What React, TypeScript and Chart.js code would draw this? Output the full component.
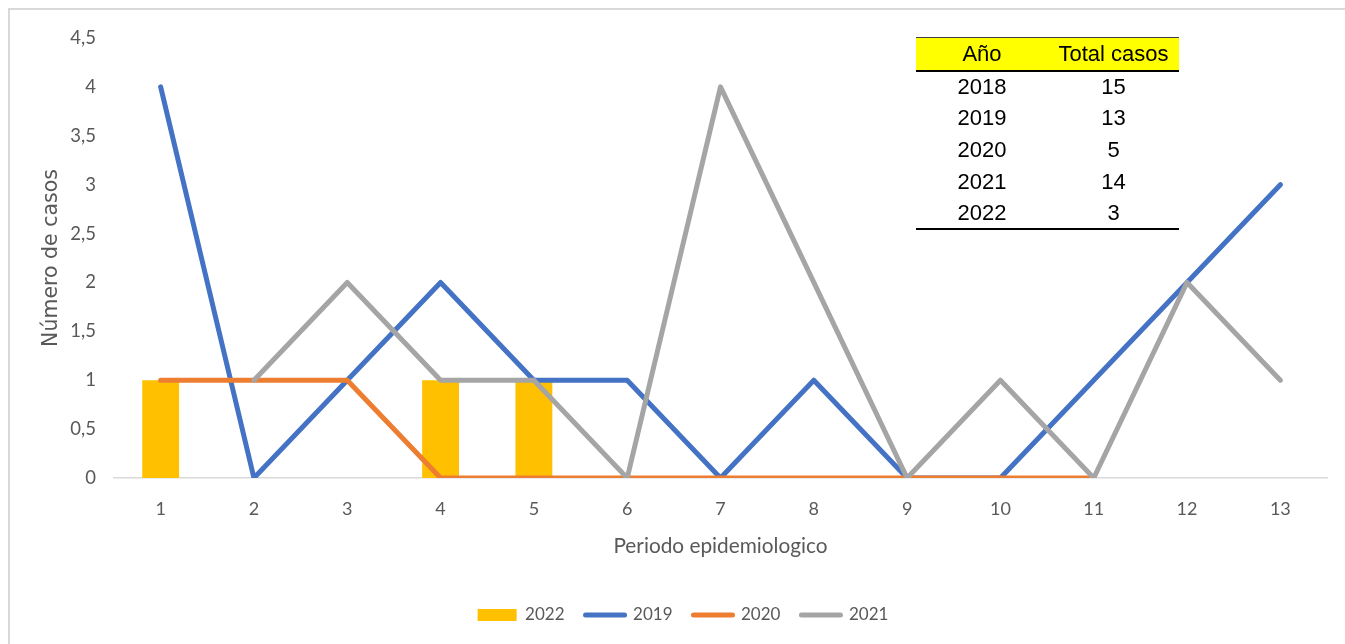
import React, { useEffect, useRef } from "react";
import { Chart, registerables } from "chart.js";

Chart.register(...registerables);

// ---- data ----
const periods = ["1", "2", "3", "4", "5", "6", "7", "8", "9", "10", "11", "12", "13"];
const cases2022 = [1, null, null, 1, 1, null, null, null, null, null, null, null, null];
const cases2019 = [4, 0, 1, 2, 1, 1, 0, 1, 0, 0, 1, 2, 3];
const cases2020 = [1, 1, 1, 0, 0, 0, 0, 0, 0, 0, 0, null, null];
const cases2021 = [null, 1, 2, 1, 1, 0, 4, 2, 0, 1, 0, 2, 1];
const tableYears = ["2018", "2019", "2020", "2021", "2022"];
const tableTotals = ["15", "13", "5", "14", "3"];

const C2022 = "#FFC000";
const C2019 = "#4472C4";
const C2020 = "#ED7D31";
const C2021 = "#A5A5A5";
const TEXT = "#595959";
const FONT = "Lato";

export default function App() {
  const canvasRef = useRef<HTMLCanvasElement | null>(null);

  useEffect(() => {
    const canvas = canvasRef.current;
    if (!canvas) return;
    const lineDs = (label: string, data: (number | null)[], color: string, order: number) => ({
      type: "line" as const,
      label,
      data,
      borderColor: color,
      backgroundColor: color,
      borderWidth: 5,
      borderCapStyle: "round" as const,
      borderJoinStyle: "round" as const,
      pointRadius: 0,
      pointHoverRadius: 0,
      tension: 0,
      fill: false,
      spanGaps: false,
      order,
    });
    const chart = new Chart(canvas, {
      type: "bar",
      data: {
        labels: periods,
        datasets: [
          {
            type: "bar",
            label: "2022",
            data: cases2022,
            backgroundColor: C2022,
            borderWidth: 0,
            barPercentage: 0.395,
            categoryPercentage: 1,
            order: 4,
          } as any,
          lineDs("2019", cases2019, C2019, 3),
          lineDs("2020", cases2020, C2020, 2),
          lineDs("2021", cases2021, C2021, 1),
        ],
      },
      options: {
        animation: false,
        responsive: true,
        maintainAspectRatio: false,
        layout: { padding: { left: 29, right: 18, top: 28, bottom: 10.5 } },
        plugins: {
          tooltip: { enabled: false },
          legend: {
            position: "bottom",
            labels: {
              usePointStyle: true,
              pointStyleWidth: 39,
              boxHeight: 12,
              padding: 21,
              color: TEXT,
              font: { family: FONT, size: 17 },
              generateLabels: (ch: any) =>
                ch.data.datasets.map((ds: any, i: number) => ({
                  text: ds.label,
                  fillStyle: i === 0 ? ds.backgroundColor : ds.borderColor,
                  strokeStyle: i === 0 ? ds.backgroundColor : ds.borderColor,
                  lineWidth: i === 0 ? 0 : 5,
                  lineCap: "round",
                  pointStyle: i === 0 ? "rect" : "line",
                  hidden: false,
                  datasetIndex: i,
                  fontColor: TEXT,
                })),
            },
          },
        },
        scales: {
          x: {
            offset: true,
            grid: { display: false },
            border: { display: true, color: "#D9D9D9", width: 1.5 },
            ticks: { color: TEXT, padding: 12, font: { family: FONT, size: 18 } },
            title: {
              display: true,
              text: "Periodo epidemiologico",
              color: TEXT,
              font: { family: FONT, size: 20.8 },
              padding: { top: 0, bottom: 27 },
            },
            afterFit: (s: any) => {
              s.height = 107.5;
            },
          },
          y: {
            min: 0,
            max: 4.5,
            grid: { display: false },
            border: { display: false },
            ticks: {
              stepSize: 0.5,
              color: TEXT,
              padding: 10,
              font: { family: FONT, size: 18.5 },
              callback: (v: any) => String(v).replace(".", ","),
            },
            title: {
              display: true,
              text: "Número de casos",
              color: TEXT,
              font: { family: "DejaVu Sans", size: 20.5 },
              padding: { top: 0, bottom: 0 },
            },
            afterFit: (s: any) => {
              s.width = 75;
            },
          },
        },
      } as any,
    });
    return () => chart.destroy();
  }, []);

  const cell: React.CSSProperties = { textAlign: "center", padding: 0 };

  return (
    <div style={{ position: "fixed", left: 0, top: 0, width: "100vw", height: "100vh", overflow: "hidden", background: "#fff" }}>
      <div
        style={{
          position: "absolute",
          left: 8,
          top: 8,
          width: 1345,
          height: 644,
          border: "2px solid #D9D9D9",
          background: "#fff",
        }}
      >
        <div style={{ position: "absolute", left: 0, top: 0, width: 1335, height: 634 }}>
          <canvas ref={canvasRef} />
        </div>
        <table
          style={{
            position: "absolute",
            left: 906,
            top: 27,
            width: 263,
            borderCollapse: "collapse",
            fontFamily: "'Liberation Sans', Arial, sans-serif",
            fontSize: 22,
            color: "#000",
            tableLayout: "fixed",
          }}
        >
          <colgroup>
            <col style={{ width: 132 }} />
            <col style={{ width: 131 }} />
          </colgroup>
          <thead>
            <tr style={{ background: "#FFFF00", height: 33, borderTop: "1px solid #404040", borderBottom: "2px solid #000" }}>
              <th style={{ ...cell, fontWeight: "normal" }}>Año</th>
              <th style={{ ...cell, fontWeight: "normal" }}>Total casos</th>
            </tr>
          </thead>
          <tbody>
            {tableYears.map((y, i) => (
              <tr
                key={y}
                style={{
                  height: 31.8,
                  borderBottom: i === tableYears.length - 1 ? "2px solid #000" : undefined,
                }}
              >
                <td style={cell}>{y}</td>
                <td style={cell}>{tableTotals[i]}</td>
              </tr>
            ))}
          </tbody>
        </table>
      </div>
    </div>
  );
}
